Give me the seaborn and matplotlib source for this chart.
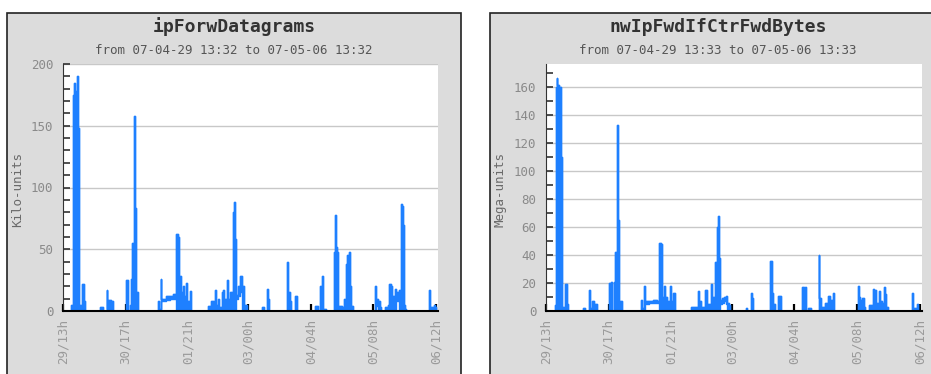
import matplotlib
matplotlib.use("Agg")
import matplotlib.pyplot as plt
import seaborn as sns
import pandas as pd
from matplotlib.patches import Rectangle
from matplotlib.ticker import MultipleLocator

sns.set_style("white")
plt.rcParams["font.family"] = ["DejaVu Sans Mono", "DejaVu Sans"]

# ── data : hours since 29/04 13:32, low / high envelope per step ──
tick_hours = [0, 28, 56, 83, 111, 139, 167]
tick_labels = ["29/13h", "30/17h", "01/21h", "03/00h", "04/04h", "05/08h", "06/12h"]

# ipForwDatagrams (kilo-units)
fwd_hours = [0, 3.5, 4.3, 4.9, 5.3, 5.7, 6.4, 6.9, 7.3, 8.0, 8.7, 9.4, 10.0,
             16.6, 17.8, 19.5, 19.9, 20.3, 21.5, 22.5,
             28.1, 29.0, 29.9, 30.6, 31.1, 31.7, 32.1, 32.6, 33.7,
             42.6, 43.1, 43.7, 44.1, 46.0, 48.0, 49.5, 50.8, 51.4, 51.9, 52.2, 53.0,
             53.6, 54.3, 55.2, 55.7, 56.8, 57.3,
             65.0, 66.5, 67.5, 68.0, 68.5, 69.5, 70.0, 71.4, 71.9, 72.3, 73.3, 73.8,
             74.8, 75.6, 76.2, 76.8, 77.2, 77.6, 78.5, 79.3, 80.3, 81.0, 82.3,
             89.3, 90.2, 91.6, 92.0, 92.4, 100.4, 100.8, 101.5, 102.2, 103.9, 105.0,
             112.9, 114.2, 115.0, 115.5, 115.9, 116.3, 118.0,
             121.5, 121.8, 122.2, 122.6, 123.0, 125.0, 125.9, 126.3, 126.8, 127.4,
             128.0, 128.7, 129.1, 130.0,
             139.6, 140.0, 141.0, 142.0, 142.5, 144.3, 145.6, 146.2, 146.8, 147.5,
             148.6, 149.0, 150.6, 151.2, 151.7, 152.2, 152.6, 153.2, 153.8,
             163.9, 164.3, 166.0, 166.6, 167.3, 168]
fwd_low = [0, 0, 0, 0, 0, 0, 0, 0, 0, 0, 0, 0, 0,
           0, 0, 0, 0, 0, 0, 0,
           0, 0, 0, 0, 0, 0, 0, 0, 0,
           0, 0, 0, 8, 9, 10, 10, 0, 0, 0, 0, 0,
           0, 0, 0, 0, 0, 0,
           0, 0, 0, 0, 0, 0, 0, 0, 0, 0, 0, 0,
           0, 0, 0, 0, 0, 10, 12, 15, 0, 0, 0,
           0, 0, 0, 0, 0, 0, 0, 0, 0, 0, 0,
           0, 0, 0, 0, 0, 0, 0,
           0, 0, 0, 0, 0, 0, 0, 0, 0, 0,
           0, 0, 0, 0,
           0, 4, 0, 0, 0, 0, 0, 0, 0, 0,
           0, 8, 0, 0, 0, 0, 0, 0, 0,
           0, 0, 0, 0, 0, 0]
fwd_high = [0, 5, 175, 185, 172, 178, 190, 148, 5, 3, 22, 8, 0,
            3, 0, 17, 2, 9, 8, 0,
            25, 0, 5, 26, 55, 158, 83, 15, 0,
            8, 2, 26, 10, 12, 12, 14, 62, 60, 15, 28, 15,
            20, 12, 23, 8, 16, 0,
            4, 8, 5, 17, 5, 10, 3, 15, 17, 10, 25, 10,
            15, 8, 80, 88, 58, 13, 20, 28, 20, 5, 0,
            3, 0, 18, 10, 0, 40, 15, 8, 0, 12, 0,
            4, 0, 20, 12, 28, 2, 0,
            48, 78, 52, 48, 4, 3, 10, 3, 38, 45,
            48, 20, 4, 0,
            20, 10, 8, 3, 0, 3, 5, 22, 20, 12,
            18, 15, 17, 87, 85, 70, 5, 2, 0,
            17, 3, 5, 3, 0, 0]

# nwIpFwdIfCtrFwdBytes (mega-units)
byt_hours = [0, 3.9, 4.3, 4.7, 5.1, 5.6, 6.3, 6.9, 7.3, 8.0, 8.6, 9.4, 10.0,
             16.5, 17.3, 19.4, 19.8, 20.7, 21.6, 22.6,
             28.0, 28.9, 29.3, 30.3, 30.8, 31.5, 32.0, 32.6, 33.8,
             42.6, 43.0, 43.7, 44.2, 46.0, 48.0, 49.5, 50.7, 51.4, 51.9, 52.5, 53.0,
             54.0, 55.2, 55.7, 56.9, 57.5,
             65.0, 67.8, 68.3, 69.2, 71.2, 72.1, 73.5, 74.0, 75.6, 76.2, 76.7, 77.1,
             77.6, 78.5, 79.5, 80.3, 81.0, 81.8, 82.3,
             89.4, 90.0, 91.5, 92.0, 92.5, 100.3, 100.8, 101.6, 102.2, 103.6, 104.8,
             114.5, 115.2, 115.7, 116.3, 117.0, 118.5,
             121.8, 122.2, 123.0, 124.5, 126.0, 126.8, 127.2, 128.2, 128.7,
             139.3, 139.8, 140.5, 141.3, 141.9, 142.6, 144.3, 146.0, 146.6, 147.0,
             147.6, 148.6, 149.1, 150.0, 150.8, 151.4, 151.9, 152.6,
             163.5, 163.9, 165.8, 166.4, 168]
byt_low = [0, 0, 0, 0, 0, 0, 0, 0, 0, 0, 0, 0, 0,
           0, 0, 0, 0, 0, 0, 0,
           0, 0, 0, 0, 0, 0, 0, 0, 0,
           0, 0, 0, 5, 6, 6, 6, 0, 0, 0, 0, 0,
           0, 0, 0, 0, 0,
           0, 0, 0, 0, 0, 0, 0, 0, 0, 0, 0, 0,
           5, 6, 7, 5, 0, 0, 0,
           0, 0, 0, 0, 0, 0, 0, 0, 0, 0, 0,
           0, 0, 0, 0, 0, 0,
           0, 0, 0, 0, 0, 0, 0, 0, 0,
           0, 0, 0, 0, 0, 0, 0, 0, 0, 0,
           0, 0, 0, 0, 0, 0, 0, 0,
           0, 0, 0, 0, 0]
byt_high = [0, 4, 160, 167, 162, 160, 160, 110, 3, 2, 19, 5, 0,
            2, 0, 15, 2, 7, 5, 0,
            20, 21, 0, 21, 42, 133, 65, 7, 0,
            8, 2, 18, 7, 7, 8, 7, 49, 48, 10, 18, 10,
            7, 18, 7, 13, 0,
            3, 14, 7, 3, 15, 5, 19, 10, 35, 60, 68, 38,
            8, 9, 10, 11, 6, 4, 0,
            2, 0, 13, 9, 0, 36, 13, 5, 0, 11, 0,
            17, 6, 17, 0, 2, 0,
            40, 9, 3, 6, 11, 3, 8, 13, 0,
            18, 10, 8, 9, 3, 0, 4, 16, 6, 15,
            6, 14, 7, 6, 17, 12, 3, 0,
            13, 2, 5, 0, 0]

LINE = "#1e80ff"
PANEL = "#dcdcdc"

fig = plt.figure(figsize=(9.31, 3.74), dpi=100)
W, H = 931, 374


def px_box(x0, y0, x1, y1):
    # pixel box (top-left origin) -> figure coords [left, bottom, width, height]
    return [x0 / W, 1 - y1 / H, (x1 - x0) / W, (y1 - y0) / H]


# grey panels behind each chart
for x0, x1 in [(7, 461), (490, 960)]:
    l, b, w, h = px_box(x0, 12.5, x1, 400)
    fig.patches.append(Rectangle((l, b), w, h, transform=fig.transFigure,
                                 facecolor=PANEL, edgecolor="#222222", lw=1.2, zorder=-10))

panels = [
    dict(box=(63, 64, 438, 311), hours=fwd_hours, low=fwd_low, high=fwd_high,
         ymax=200, major=50, ylabel="Kilo-units", title="ipForwDatagrams",
         sub="from 07-04-29 13:32 to 07-05-06 13:32", cx=234),
    dict(box=(546, 64, 922, 311), hours=byt_hours, low=byt_low, high=byt_high,
         ymax=176.7, major=20, ylabel="Mega-units", title="nwIpFwdIfCtrFwdBytes",
         sub="from 07-04-29 13:33 to 07-05-06 13:33", cx=718),
]

for p in panels:
    ax = fig.add_axes(px_box(*p["box"]))
    ax.set_zorder(1)
    ax.set_facecolor("white")
    df = pd.DataFrame({"hours": p["hours"], "low": p["low"], "high": p["high"]})

    ax.fill_between(df["hours"], df["low"], df["high"], step="post",
                    facecolor=LINE, edgecolor=LINE, lw=1.0, zorder=3)
    sns.lineplot(data=df, x="hours", y="high", ax=ax, color=LINE, lw=1.0,
                 drawstyle="steps-post", estimator=None, zorder=3)

    ax.set_xlim(0, 168)
    ax.set_ylim(0, p["ymax"])
    ax.yaxis.set_major_locator(MultipleLocator(p["major"]))
    ax.yaxis.set_minor_locator(MultipleLocator(10))
    ax.set_xticks(tick_hours)
    ax.set_xticklabels(tick_labels, rotation=90)

    ax.grid(axis="y", which="major", color="#c8c8c8", lw=1, zorder=1)
    ax.yaxis.set_tick_params(which="major", direction="in", left=True, length=5,
                             width=1.2, color="#333333", labelsize=9,
                             labelcolor="#8a8a8a", pad=7)
    ax.yaxis.set_tick_params(which="minor", direction="in", left=True, length=5,
                             width=1.2, color="#333333")
    ax.tick_params(axis="x", direction="in", bottom=True, length=5, width=1.6,
                   color="black", labelsize=9, labelcolor="#9a9a9a", pad=6)
    for t in ax.yaxis.get_ticklines(minor=True) + ax.yaxis.get_ticklines():
        t.set_zorder(6)

    for s in ["top", "right"]:
        ax.spines[s].set_visible(False)
    ax.spines["left"].set_color("#333333")
    ax.spines["bottom"].set_color("black")
    ax.spines["bottom"].set_linewidth(1.5)
    ax.spines["bottom"].set_zorder(5)

    ax.set_xlabel("")
    ax.set_ylabel(p["ylabel"], fontsize=9, color="#6a6a6a")
    ax.yaxis.set_label_coords(-0.104, 0.49)

    fig.text(p["cx"] / W, 1 - 27 / H, p["title"], ha="center", va="center",
             fontsize=13, fontweight="bold", color="#333333")
    fig.text(p["cx"] / W, 1 - 50 / H, p["sub"], ha="center", va="center",
             fontsize=9, color="#555555")

fig.savefig("out.png", dpi=100, facecolor="white")
